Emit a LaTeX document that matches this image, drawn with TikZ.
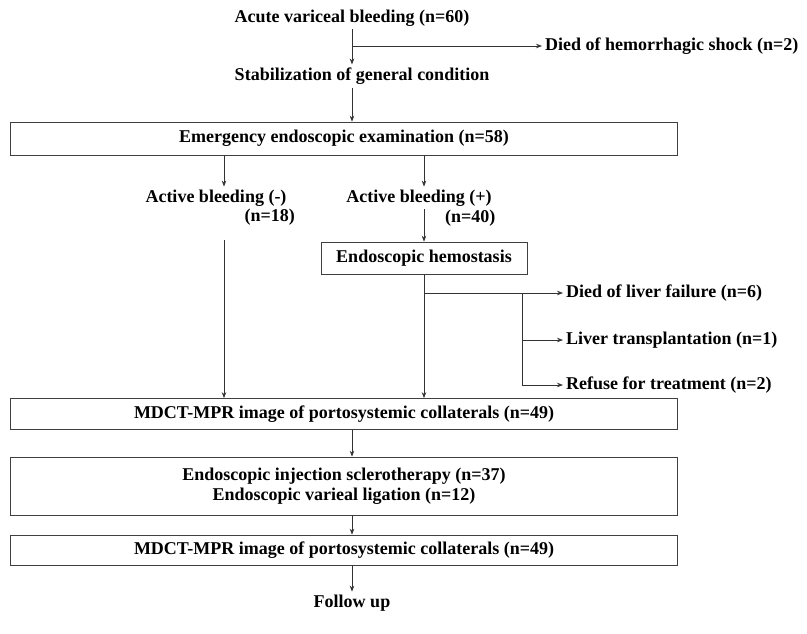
\documentclass[tikz,border=0pt]{standalone}
\usepackage{fontspec}
\setmainfont{Liberation Serif}
\usepackage{tikz}
\usetikzlibrary{positioning, arrows.meta}

\begin{document}
\begin{tikzpicture}[
    x=1pt, y=-1pt,
    every node/.style={font=\fontsize{18}{20}\selectfont\bfseries, inner sep=3pt},
    box/.style={draw=black!75, line width=0.7pt, minimum width=667pt, align=center},
    arr/.style={draw=black!80, line width=0.7pt, -{Stealth[length=6pt, width=4.5pt]}},
    line/.style={draw=black!80, line width=0.7pt}
]
\useasboundingbox (0,0) rectangle (807,633);

% columns of the arrows
\coordinate (colM) at (352,0);
\coordinate (colL) at (224,0);
\coordinate (colR) at (424,0);

\node (acute) at (352,18) {Acute variceal bleeding (n=60)};
\node[anchor=west] (shock) at (542,46) {Died of hemorrhagic shock (n=2)};
\node (stab) at (362,76) {Stabilization of general condition};

\node[box, minimum height=33pt] (emerg) at (344,138.5) {Emergency endoscopic examination (n=58)};

\node (actneg) at (216,198) {Active bleeding (-)};
\node[anchor=east] (n18) at (298,217) {(n=18)};
\node (actpos) at (419,198) {Active bleeding (+)};
\node[anchor=west] (n40) at (442,218) {(n=40)};

\node[draw=black!75, line width=0.7pt, minimum width=206pt, minimum height=32pt] (hemo) at (424,258) {Endoscopic hemostasis};

\node[anchor=west] (liverfail) at (563,293) {Died of liver failure (n=6)};
\node[anchor=west] (transpl) at (563,340) {Liver transplantation (n=1)};
\node[anchor=west] (refuse) at (563,385) {Refuse for treatment (n=2)};
\coordinate[left=41pt of liverfail.west] (fork);

\node[box, minimum height=31pt] (mdctA) at (344,414) {MDCT-MPR image of portosystemic collaterals (n=49)};
\node[box, minimum height=58pt] (sclero) at (344,486) {Endoscopic injection sclerotherapy (n=37)\\Endoscopic varieal ligation (n=12)};
\node[box, minimum height=30pt] (mdctB) at (344,550) {MDCT-MPR image of portosystemic collaterals (n=49)};
\node (follow) at (352,603) {Follow up};

% top
\draw[arr] (acute.south) -- (acute.south |- stab.north);
\draw[arr] (acute.south |- shock.west) -- (shock.west);
\draw[arr] (stab.south -| colM) -- (emerg.north -| colM);

% endoscopy branches
\draw[arr] (emerg.south -| colL) -- (actneg.north -| colL);
\draw[arr] (emerg.south -| colR) -- (actpos.north -| colR);
\draw[arr] (actpos.south -| colR) -- (hemo.north);
\draw[arr] ([yshift=-12pt]n18.south -| colL) -- (mdctA.north -| colL);
\draw[arr] (hemo.south) -- (mdctA.north -| hemo.south);

% losses after hemostasis
\draw[arr] (hemo.south |- liverfail.west) -- (liverfail.west);
\draw[arr] (fork) |- (refuse.west);
\draw[arr] (fork |- transpl.west) -- (transpl.west);

% lower chain
\draw[arr] (mdctA.south -| colM) -- (sclero.north -| colM);
\draw[arr] (sclero.south -| colM) -- (mdctB.north -| colM);
\draw[arr] (mdctB.south -| colM) -- (follow.north);
\end{tikzpicture}
\end{document}
